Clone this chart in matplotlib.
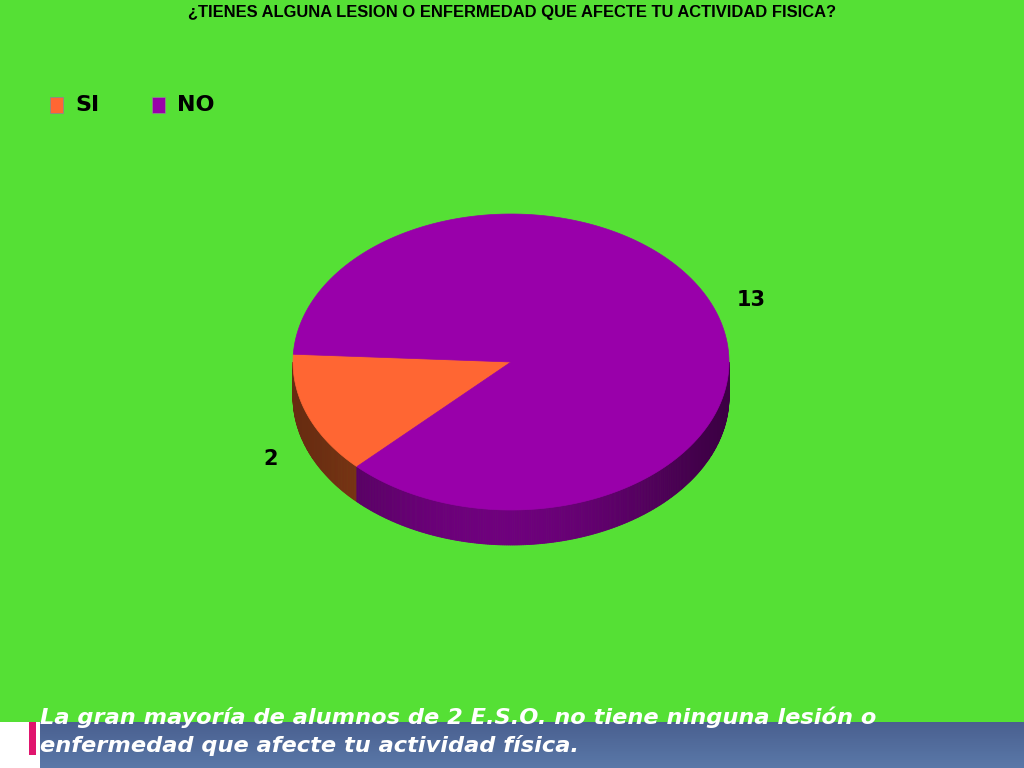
import numpy as np
import matplotlib.pyplot as plt
from matplotlib.patches import Polygon, Rectangle

# data
labels = ["SI", "NO"]
values = [2, 13]
colors = ["#FF6633", "#9900AA"]
side_colors = ["#7a3414", "#5c0068"]

title = "¿TIENES ALGUNA LESION O ENFERMEDAD QUE AFECTE TU ACTIVIDAD FISICA?"
footer_lines = ["La gran mayoría de alumnos de 2 E.S.O. no tiene ninguna lesión o",
                "enfermedad que afecte tu actividad física."]

bg = "#55E035"

fig = plt.figure(figsize=(10.24, 7.68), dpi=100, facecolor=bg)
ax = fig.add_axes([0, 0, 1, 1])
ax.set_xlim(0, 1024)
ax.set_ylim(768, 0)
ax.axis("off")
ax.set_facecolor(bg)

# pie geometry (pixels)
cx, cy = 511, 362
rx, ry = 218, 148
depth = 35
start = 177.0


def pt(t, dz=0):
    r = np.radians(t)
    return cx + rx * np.cos(r), cy - ry * np.sin(r) + dz


def shade(hexcol, f):
    c = np.array([int(hexcol[i:i + 2], 16) for i in (1, 3, 5)]) / 255.0
    return tuple(np.clip(c * f, 0, 1))


total = sum(values)
angles = [start]
for v in values:
    angles.append(angles[-1] + 360.0 * v / total)

# side walls (front half only)
for i in range(len(values)):
    a0, a1 = angles[i], angles[i + 1]
    for k in range(-1, 2):
        lo = max(a0, 180 + 360 * k)
        hi = min(a1, 360 + 360 * k)
        if hi <= lo:
            continue
        ts = np.linspace(lo, hi, int((hi - lo) * 2) + 2)
        for t0, t1 in zip(ts[:-1], ts[1:]):
            tm = np.radians((t0 + t1) / 2)
            f = 0.75 + 0.45 * np.sin(-tm) ** 3 - 0.1 * np.cos(tm)
            quad = [pt(t0), pt(t1), pt(t1, depth), pt(t0, depth)]
            ax.add_patch(Polygon(quad, closed=True, facecolor=shade(side_colors[i], f),
                                 edgecolor=shade(side_colors[i], f), lw=0.6))

# top faces
for i in range(len(values)):
    ts = np.linspace(angles[i], angles[i + 1], 200)
    verts = [(cx, cy)] + [pt(t) for t in ts]
    ax.add_patch(Polygon(verts, closed=True, facecolor=colors[i], edgecolor=colors[i], lw=0.5))

# value labels
for i in range(len(values)):
    mid = np.radians((angles[i] + angles[i + 1]) / 2)
    lx = cx + 1.18 * rx * np.cos(mid)
    ly = cy - 1.16 * ry * np.sin(mid)
    if np.sin(mid) < 0:
        ly += depth
    ax.text(lx, ly, str(values[i]), fontsize=15, fontweight="heavy", color="black",
            ha="center", va="center", family="DejaVu Sans")

# title
ax.text(512, 13, title, fontsize=11.9, fontweight="bold", ha="center", va="center",
        family=["Liberation Sans Narrow", "Liberation Sans", "DejaVu Sans"])

# legend
leg_x = [50, 152]
for i, lab in enumerate(labels):
    ax.add_patch(Rectangle((leg_x[i], 97), 13, 16, facecolor=colors[i], edgecolor="#8a8a8a", lw=0.6))
    ax.text(leg_x[i] + 25, 105, lab, fontsize=16, fontweight="heavy", ha="left", va="center",
            family="DejaVu Sans")

# footer banner
grad = np.linspace(0, 1, 50).reshape(-1, 1)
ax.imshow(grad, extent=(40, 1024, 768, 722), cmap=plt.matplotlib.colors.LinearSegmentedColormap.from_list(
    "b", ["#4a6090", "#5a78a8"]), aspect="auto", zorder=1)
ax.add_patch(Rectangle((0, 722), 40, 46, facecolor="white", edgecolor="none", zorder=1))
ax.add_patch(Rectangle((29, 722), 7, 33, facecolor="#e0156e", edgecolor="none", zorder=2))
for j, line in enumerate(footer_lines):
    ax.text(40, 717 + 28 * j, line, fontsize=16.2, fontweight="heavy", style="italic",
            color="white", ha="left", va="center", family="DejaVu Sans", zorder=3)

fig.savefig("out.png", dpi=100, facecolor=bg)
